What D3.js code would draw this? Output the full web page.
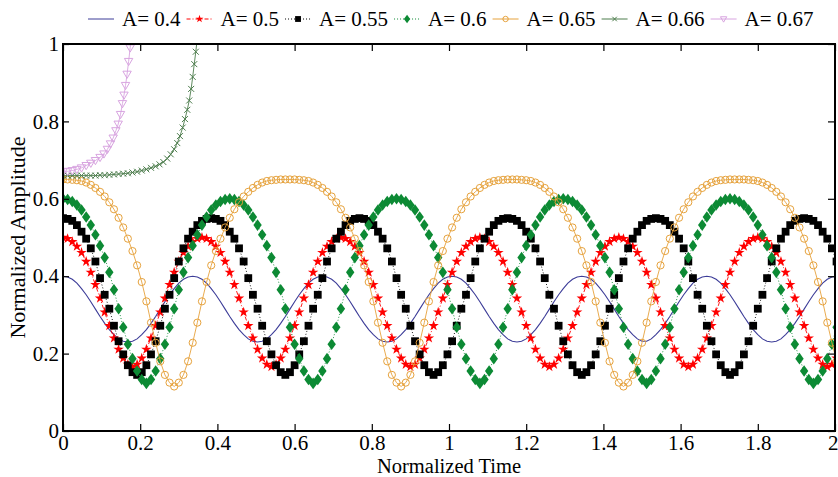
<!DOCTYPE html>
<html><head><meta charset="utf-8">
<script src="https://cdn.jsdelivr.net/npm/d3@7"></script>
<style>
html,body{margin:0;padding:0;background:#fff;}
svg{display:block;}
svg text{font-family:"Liberation Serif","Times New Roman",Times,serif !important;}
</style></head>
<body><svg id="chart" width="838" height="477"></svg>
<script>
// ---------- data ----------
const legendLabels = ["A= 0.4","A= 0.5","A= 0.55","A= 0.6","A= 0.65","A= 0.66","A= 0.67"];
const xTicks = [0,0.2,0.4,0.6,0.8,1,1.2,1.4,1.6,1.8,2];
const xTickLabels = ["0","0.2","0.4","0.6","0.8","1","1.2","1.4","1.6","1.8","2"];
const yTicks = [0,0.2,0.4,0.6,0.8,1];
const yTickLabels = ["0","0.2","0.4","0.6","0.8","1"];

const time = [0,0.012,0.024,0.036,0.048,0.06,0.072,0.084,0.096,0.108,
0.12,0.132,0.144,0.156,0.168,0.18,0.192,0.204,0.216,0.228,
0.24,0.252,0.264,0.276,0.288,0.3,0.312,0.324,0.336,0.348,
0.36,0.372,0.384,0.396,0.408,0.42,0.432,0.444,0.456,0.468,
0.48,0.492,0.504,0.516,0.528,0.54,0.552,0.564,0.576,0.588,
0.6,0.612,0.624,0.636,0.648,0.66,0.672,0.684,0.696,0.708,
0.72,0.732,0.744,0.756,0.768,0.78,0.792,0.804,0.816,0.828,
0.84,0.852,0.864,0.876,0.888,0.9,0.912,0.924,0.936,0.948,
0.96,0.972,0.984,0.996,1.008,1.02,1.032,1.044,1.056,1.068,
1.08,1.092,1.104,1.116,1.128,1.14,1.152,1.164,1.176,1.188,
1.2,1.212,1.224,1.236,1.248,1.26,1.272,1.284,1.296,1.308,
1.32,1.332,1.344,1.356,1.368,1.38,1.392,1.404,1.416,1.428,
1.44,1.452,1.464,1.476,1.488,1.5,1.512,1.524,1.536,1.548,
1.56,1.572,1.584,1.596,1.608,1.62,1.632,1.644,1.656,1.668,
1.68,1.692,1.704,1.716,1.728,1.74,1.752,1.764,1.776,1.788,
1.8,1.812,1.824,1.836,1.848,1.86,1.872,1.884,1.896,1.908,
1.92,1.932,1.944,1.956,1.968,1.98,1.992,2.004];

const ampA040 = [0.4,0.398,0.392,0.382,0.368,0.352,0.334,0.315,0.296,0.278,0.262,0.249,0.238,0.232,0.23,0.232,0.238,0.249,0.262,0.278,0.296,0.315,0.334,0.352,0.368,0.382,0.392,0.398,0.4,
0.398,0.392,0.382,0.368,0.352,0.334,0.315,0.296,0.278,0.262,0.249,0.238,0.232,0.23,0.232,0.238,0.249,0.262,0.278,0.296,0.315,0.334,0.352,0.368,0.382,0.392,0.398,0.4,
0.398,0.392,0.382,0.368,0.352,0.334,0.315,0.296,0.278,0.262,0.249,0.238,0.232,0.23,0.232,0.238,0.249,0.262,0.278,0.296,0.315,0.334,0.352,0.368,0.382,0.392,0.398,0.4,
0.398,0.392,0.382,0.368,0.352,0.334,0.315,0.296,0.278,0.262,0.249,0.238,0.232,0.23,0.232,0.238,0.249,0.262,0.278,0.296,0.315,0.334,0.352,0.368,0.382,0.392,0.398,0.4,
0.398,0.392,0.382,0.368,0.352,0.334,0.315,0.296,0.278,0.262,0.249,0.238,0.232,0.232,0.238,0.249,0.262,0.278,0.296,0.315,0.334,0.352,0.368,0.382,0.392,0.398,0.4,
0.398,0.392,0.382,0.368,0.352,0.334,0.315,0.296,0.278,0.262,0.249,0.238,0.232,0.23,0.232,0.238,0.249,0.262,0.278,0.296,0.315,0.334,0.352,0.368,0.382,0.392,0.398,0.4];

const ampA050 = [0.5,0.497,0.489,0.477,0.461,0.438,0.41,0.378,0.343,0.307,0.272,0.24,0.211,0.188,0.172,0.166,0.172,0.188,0.211,0.24,0.272,0.307,0.343,0.378,0.41,0.438,0.461,0.477,0.489,0.497,
0.5,0.497,0.489,0.477,0.461,0.438,0.41,0.378,0.343,0.307,0.272,0.24,0.211,0.188,0.172,0.166,0.172,0.188,0.211,0.24,0.272,0.307,0.343,0.378,0.41,0.438,0.461,0.477,0.489,0.497,
0.5,0.497,0.489,0.477,0.461,0.438,0.41,0.378,0.343,0.307,0.272,0.24,0.211,0.188,0.172,0.166,0.172,0.188,0.211,0.24,0.272,0.307,0.343,0.378,0.41,0.438,0.461,0.477,0.489,0.497,
0.5,0.497,0.489,0.477,0.461,0.438,0.41,0.378,0.343,0.307,0.272,0.24,0.211,0.188,0.172,0.166,0.172,0.188,0.211,0.24,0.272,0.307,0.343,0.378,0.41,0.438,0.461,0.477,0.489,0.497,
0.5,0.497,0.489,0.477,0.461,0.438,0.41,0.378,0.343,0.307,0.272,0.24,0.211,0.188,0.172,0.166,0.172,0.188,0.211,0.24,0.272,0.307,0.343,0.378,0.41,0.438,0.461,0.477,0.489,0.497,
0.5,0.497,0.489,0.477,0.461,0.438,0.41,0.378,0.343,0.307,0.272,0.24,0.211,0.188,0.172,0.166,0.172,0.188];

const ampA055 = [0.55,0.548,0.543,0.532,0.515,0.497,0.472,0.438,0.395,0.352,0.316,0.272,0.232,0.198,0.17,0.152,0.145,0.152,0.17,0.198,0.232,0.272,0.316,0.352,0.395,0.438,0.472,0.497,0.515,0.532,0.543,0.548,
0.55,0.548,0.543,0.532,0.515,0.497,0.472,0.438,0.395,0.352,0.316,0.272,0.232,0.198,0.17,0.152,0.145,0.152,0.17,0.198,0.232,0.272,0.316,0.352,0.395,0.438,0.472,0.497,0.515,0.532,0.543,0.548,
0.55,0.548,0.543,0.532,0.515,0.497,0.472,0.438,0.395,0.352,0.316,0.272,0.232,0.198,0.17,0.152,0.145,0.152,0.17,0.198,0.232,0.272,0.316,0.352,0.395,0.438,0.472,0.497,0.515,0.532,0.543,0.548,
0.55,0.548,0.543,0.532,0.515,0.497,0.472,0.438,0.395,0.352,0.316,0.272,0.232,0.198,0.17,0.152,0.145,0.152,0.17,0.198,0.232,0.272,0.316,0.352,0.395,0.438,0.472,0.497,0.515,0.532,0.543,0.548,
0.55,0.548,0.543,0.532,0.515,0.497,0.472,0.438,0.395,0.352,0.316,0.272,0.232,0.198,0.17,0.152,0.145,0.152,0.17,0.198,0.232,0.272,0.316,0.352,0.395,0.438,0.472,0.497,0.515,0.532,0.543,0.548,
0.55,0.548,0.543,0.532,0.515,0.497,0.472,0.438];

const ampA060 = [0.6,0.598,0.593,0.584,0.571,0.553,0.532,0.507,0.479,0.448,0.41,0.365,0.316,0.268,0.224,0.187,0.155,0.133,0.123,0.133,0.155,0.187,0.224,0.268,0.316,0.365,0.41,0.448,0.479,0.507,0.532,0.553,0.571,0.584,0.593,0.598,
0.6,0.598,0.593,0.584,0.571,0.553,0.532,0.507,0.479,0.448,0.41,0.365,0.316,0.268,0.224,0.187,0.155,0.133,0.123,0.133,0.155,0.187,0.224,0.268,0.316,0.365,0.41,0.448,0.479,0.507,0.532,0.553,0.571,0.584,0.593,0.598,
0.6,0.598,0.593,0.584,0.571,0.553,0.532,0.507,0.479,0.448,0.41,0.365,0.316,0.268,0.224,0.187,0.155,0.133,0.123,0.133,0.155,0.187,0.224,0.268,0.316,0.365,0.41,0.448,0.479,0.507,0.532,0.553,0.571,0.584,0.593,0.598,
0.6,0.598,0.593,0.584,0.571,0.553,0.532,0.507,0.479,0.448,0.41,0.365,0.316,0.268,0.224,0.187,0.155,0.133,0.123,0.133,0.155,0.187,0.224,0.268,0.316,0.365,0.41,0.448,0.479,0.507,0.532,0.553,0.571,0.584,0.593,0.598,
0.6,0.598,0.593,0.584,0.571,0.553,0.532,0.507,0.479,0.448,0.41,0.365,0.316,0.268,0.224,0.187,0.155,0.133,0.123,0.133,0.155,0.187,0.224,0.268];

const ampA065 = [0.65,0.65,0.649,0.648,0.646,0.642,0.636,0.628,0.618,0.606,0.591,0.573,0.551,0.526,0.497,0.465,0.428,0.385,0.335,0.28,0.228,0.18,0.145,0.125,0.115,
0.125,0.145,0.18,0.228,0.28,0.335,0.385,0.428,0.465,0.497,0.526,0.551,0.573,0.591,0.606,0.618,0.628,0.636,0.642,0.646,0.648,0.649,0.65,0.65,
0.65,
0.65,0.649,0.648,0.646,0.642,0.636,0.628,0.618,0.606,0.591,0.573,0.551,0.526,0.497,0.465,0.428,0.385,0.335,0.28,0.228,0.18,0.145,0.125,0.115,
0.125,0.145,0.18,0.228,0.28,0.335,0.385,0.428,0.465,0.497,0.526,0.551,0.573,0.591,0.606,0.618,0.628,0.636,0.642,0.646,0.648,0.649,0.65,0.65,
0.65,0.649,0.648,0.646,0.642,0.636,0.628,0.618,0.606,0.591,0.573,0.551,0.526,0.497,0.465,0.428,0.385,0.335,0.28,0.228,0.18,0.145,0.125,0.115,
0.125,0.145,0.18,0.228,0.28,0.335,0.385,0.428,0.465,0.497,0.526,0.551,0.573,0.591,0.606,0.618,0.628,0.636,0.642,0.646,0.648,0.649,0.65,0.65,
0.65,
0.65,0.649,0.648,0.646,0.642,0.636,0.628,0.618,0.606,0.591,0.573,0.551,0.526,0.497,0.465,0.428,0.385,0.335,0.28,0.228,0.18];

const timeA066 = [0,0.012,0.024,0.036,0.048,0.06,0.072,0.084,0.096,0.108,0.12,0.132,0.144,0.156,0.168,0.18,0.192,0.204,0.216,0.228,
0.24,0.25,0.26,0.27,0.279,0.288,0.296,0.303,0.31,0.316,0.322,0.327,0.332,0.336,0.34,0.344,0.348,0.352];
const ampA066 = [0.66,0.66,0.66,0.66,0.66,0.66,0.66,0.66,0.661,0.661,0.662,0.663,0.664,0.665,0.666,0.668,0.67,0.673,0.676,0.68,
0.684,0.689,0.695,0.704,0.715,0.728,0.744,0.762,0.784,0.806,0.83,0.854,0.884,0.915,0.948,0.98,1.015,1.05];

const timeA067 = [0,0.012,0.024,0.036,0.048,0.06,0.072,0.084,0.096,0.106,0.115,0.123,0.13,0.137,0.143,0.149,0.154,0.158,0.162,0.166,0.17,0.174,0.178];
const ampA067 = [0.67,0.671,0.673,0.676,0.68,0.686,0.692,0.699,0.707,0.716,0.728,0.742,0.757,0.776,0.793,0.818,0.846,0.868,0.893,0.922,0.955,0.99,1.03];

const seriesColors = ["#3c3c98","#ff0000","#000000","#0c8a34","#e6a23c","#4d7d4d","#d8a4e0"];

// ---------- build ----------
const FONT = '"Liberation Serif", "Times New Roman", Times, serif';
const zip = (t, v) => v.map((val, i) => ({t: t[i], v: val})).filter(d => d.t !== undefined);
const series = [
  {label: legendLabels[0], data: zip(time, ampA040), color: seriesColors[0], marker: null, dash: null},
  {label: legendLabels[1], data: zip(time, ampA050), color: seriesColors[1], marker: "star", dash: "4,2,1,2"},
  {label: legendLabels[2], data: zip(time, ampA055), color: seriesColors[2], marker: "square", dash: "1,2"},
  {label: legendLabels[3], data: zip(time, ampA060), color: seriesColors[3], marker: "diamond", dash: "1,2"},
  {label: legendLabels[4], data: zip(time, ampA065), color: seriesColors[4], marker: "circle", dash: null},
  {label: legendLabels[5], data: zip(timeA066, ampA066), color: seriesColors[5], marker: "cross", dash: null},
  {label: legendLabels[6], data: zip(timeA067, ampA067), color: seriesColors[6], marker: "tri", dash: null}
];

const svg = d3.select("#chart").attr("font-family", FONT);
const L = 63, R = 835, T = 44, B = 431;
const x = d3.scaleLinear().domain([0, 2]).range([L, R]);
const y = d3.scaleLinear().domain([0, 1]).range([B, T]);

svg.append("defs").append("clipPath").attr("id", "plotclip")
  .append("rect").attr("x", L).attr("y", T).attr("width", R - L).attr("height", B - T);

function markerPath(type, s) {
  if (type === "star") return d3.symbol(d3.symbolStar, 34 * s * s)();
  if (type === "square") { const h = 3.9 * s; return `M${-h},${-h}H${h}V${h}H${-h}Z`; }
  if (type === "diamond") { const w = 4.2 * s, h = 5.8 * s; return `M0,${-h}L${w},0L0,${h}L${-w},0Z`; }
  if (type === "circle") { const r = 3.6 * s; return `M${r},0A${r},${r} 0 1,1 ${-r},0A${r},${r} 0 1,1 ${r},0Z`; }
  if (type === "cross") { const h = 3 * s; return `M${-h},${-h}L${h},${h}M${-h},${h}L${h},${-h}`; }
  if (type === "tri") { const w = 4.2 * s; return `M${-w},${-3 * s}L${w},${-3 * s}L0,${4.2 * s}Z`; }
  return "";
}
function styleMarker(sel, s) {
  const filled = s.marker === "star" || s.marker === "square" || s.marker === "diamond";
  sel.attr("fill", filled ? s.color : "none")
     .attr("stroke", filled ? "none" : s.color)
     .attr("stroke-width", 1);
}

// ---------- plot ----------
const plot = svg.append("g").attr("clip-path", "url(#plotclip)");
const line = d3.line().x(d => x(d.t)).y(d => y(d.v));
series.forEach(s => {
  const g = plot.append("g");
  g.append("path").datum(s.data)
    .attr("d", line)
    .attr("fill", "none")
    .attr("stroke", s.color)
    .attr("stroke-width", s.marker ? 0.9 : 1.1)
    .attr("stroke-dasharray", s.dash);
  if (s.marker) {
    g.selectAll("path.m").data(s.data).join("path").attr("class", "m")
      .attr("transform", d => `translate(${x(d.t)},${y(d.v)})`)
      .attr("d", markerPath(s.marker, 1))
      .call(styleMarker, s);
  }
});

// ---------- axes ----------
const tickFont = 21, titleFont = 20.5;
const xAxis = svg.append("g").attr("transform", `translate(0,${B})`)
  .call(d3.axisBottom(x).tickValues(xTicks).tickSizeInner(-7).tickSizeOuter(0).tickPadding(4.5)
    .tickFormat((d, i) => xTickLabels[i]));
const yAxis = svg.append("g").attr("transform", `translate(${L},0)`)
  .call(d3.axisLeft(y).tickValues(yTicks).tickSizeInner(-6).tickSizeOuter(0).tickPadding(4)
    .tickFormat((d, i) => yTickLabels[i]));
const topAxis = svg.append("g").attr("transform", `translate(0,${T})`)
  .call(d3.axisTop(x).tickValues(xTicks).tickSizeInner(-7).tickSizeOuter(0).tickFormat(""));
const rightAxis = svg.append("g").attr("transform", `translate(${R},0)`)
  .call(d3.axisRight(y).tickValues(yTicks).tickSizeInner(-7).tickSizeOuter(0).tickFormat(""));
[xAxis, yAxis, topAxis, rightAxis].forEach(a => {
  a.attr("font-family", FONT).attr("font-size", tickFont);
  a.select(".domain").remove();
  a.selectAll(".tick line").attr("stroke", "#000").attr("stroke-width", 1.2);
  a.selectAll(".tick text").attr("fill", "#000").attr("font-family", FONT).attr("font-size", tickFont);
});
// last x label sits against the right edge of the picture, as in the original
xAxis.selectAll(".tick text").filter((d, i) => i === xTicks.length - 1)
  .attr("text-anchor", "end").attr("x", 3);
svg.append("rect").attr("x", L).attr("y", T).attr("width", R - L).attr("height", B - T)
  .attr("fill", "none").attr("stroke", "#000").attr("stroke-width", 2);

svg.append("text").attr("x", (L + R) / 2).attr("y", 472.8).attr("text-anchor", "middle")
  .attr("font-family", FONT).attr("font-size", titleFont).text("Normalized Time");
svg.append("text").attr("transform", `translate(25,${(T + B) / 2}) rotate(-90)`).attr("text-anchor", "middle")
  .attr("font-family", FONT).attr("font-size", 22).text("Normalized Amplitude");

// ---------- legend ----------
const legend = svg.append("g");
let lx = 88;
const ly = 19;
series.forEach(s => {
  const g = legend.append("g");
  g.append("line").attr("x1", lx).attr("x2", lx + 26).attr("y1", ly).attr("y2", ly)
    .attr("stroke", s.color).attr("stroke-width", 1).attr("stroke-dasharray", s.dash);
  if (s.marker) {
    g.append("path").attr("transform", `translate(${lx + 13},${ly})`)
      .attr("d", markerPath(s.marker, 0.75)).call(styleMarker, s);
  }
  const t = g.append("text").attr("x", lx + 34).attr("y", 26)
    .attr("font-family", FONT).attr("font-size", 21).text(s.label);
  lx += 34 + t.node().getComputedTextLength() + 6;
});
</script>
</body></html>
